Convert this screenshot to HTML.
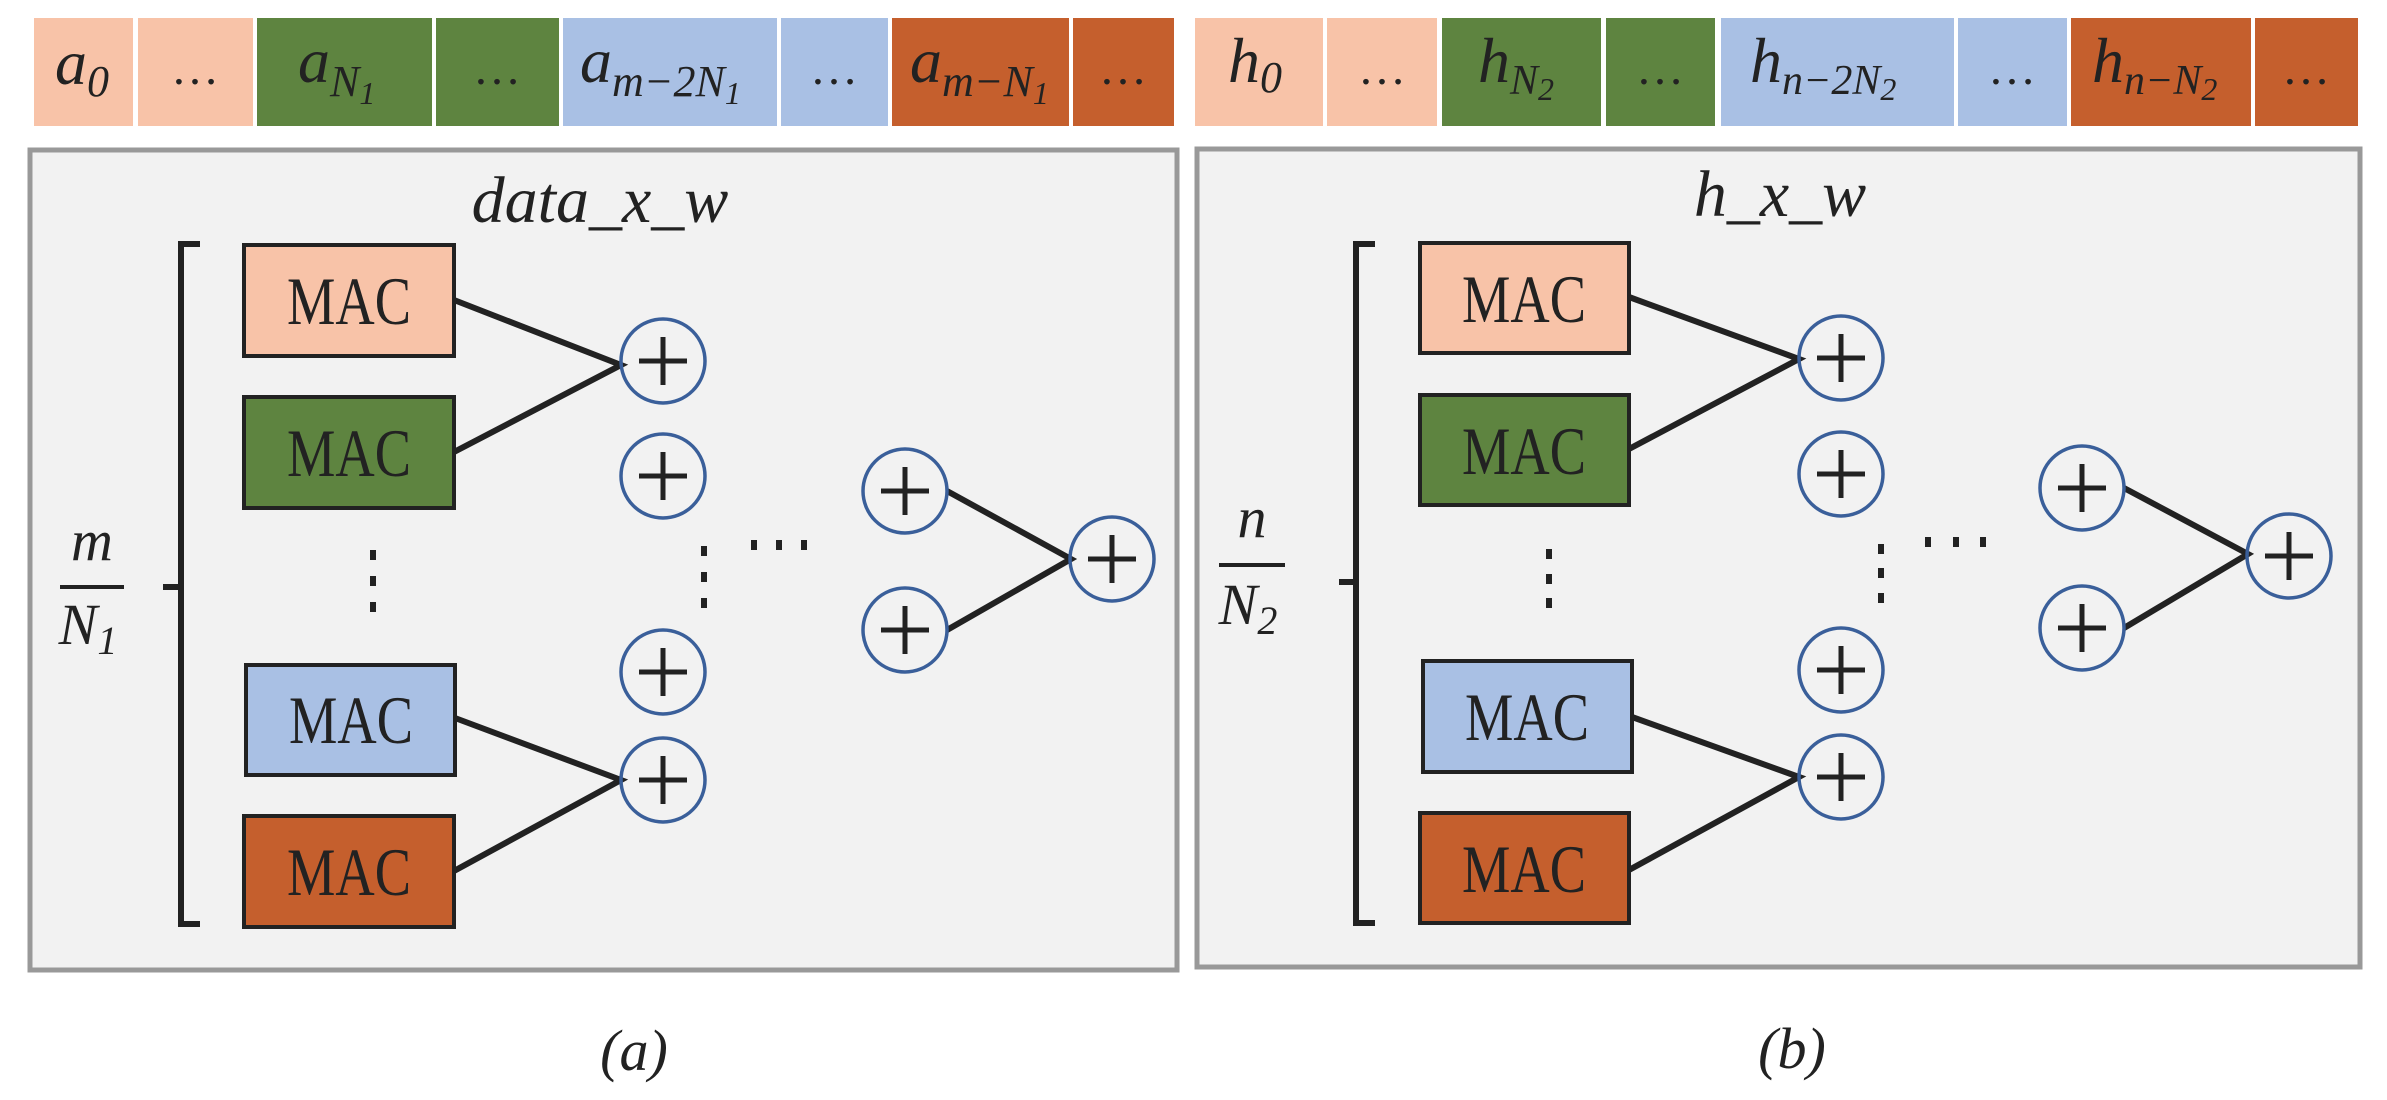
<!DOCTYPE html>
<html><head><style>
html,body{margin:0;padding:0;background:#fff;}
svg{display:block;}
.m{font-family:"Liberation Serif",serif;font-style:italic;}
.t{font-family:"Liberation Serif",serif;}
</style></head><body>
<svg width="2387" height="1100" viewBox="0 0 2387 1100" xmlns="http://www.w3.org/2000/svg">
<g>
<rect x="34" y="18" width="99" height="108" fill="#F8C3A8"/>
<rect x="138" y="18" width="115" height="108" fill="#F8C3A8"/>
<rect x="257" y="18" width="175" height="108" fill="#5E8440"/>
<rect x="436" y="18" width="123" height="108" fill="#5E8440"/>
<rect x="563" y="18" width="214" height="108" fill="#A9C0E4"/>
<rect x="781" y="18" width="107" height="108" fill="#A9C0E4"/>
<rect x="892" y="18" width="177" height="108" fill="#C55F2D"/>
<rect x="1073" y="18" width="101" height="108" fill="#C55F2D"/>
</g>
<g fill="#222" font-size="64">
<text class="m" x="55" y="84">a<tspan font-size="44" dy="12">0</tspan></text>
<text class="t" x="195" y="84" text-anchor="middle" font-size="48">…</text>
<text class="m" x="298" y="82">a<tspan font-size="44" dy="14">N</tspan><tspan font-size="32" dy="8">1</tspan></text>
<text class="t" x="497" y="84" text-anchor="middle" font-size="48">…</text>
<text class="m" x="580" y="82">a<tspan font-size="44" dy="14">m−2N</tspan><tspan font-size="32" dy="8">1</tspan></text>
<text class="t" x="834" y="84" text-anchor="middle" font-size="48">…</text>
<text class="m" x="910" y="82">a<tspan font-size="44" dy="14">m−N</tspan><tspan font-size="32" dy="8">1</tspan></text>
<text class="t" x="1123" y="84" text-anchor="middle" font-size="48">…</text>
</g>
<g>
<rect x="1195" y="18" width="128" height="108" fill="#F8C3A8"/>
<rect x="1327" y="18" width="110" height="108" fill="#F8C3A8"/>
<rect x="1442" y="18" width="159" height="108" fill="#5E8440"/>
<rect x="1606" y="18" width="109" height="108" fill="#5E8440"/>
<rect x="1721" y="18" width="233" height="108" fill="#A9C0E4"/>
<rect x="1958" y="18" width="109" height="108" fill="#A9C0E4"/>
<rect x="2071" y="18" width="180" height="108" fill="#C55F2D"/>
<rect x="2255" y="18" width="103" height="108" fill="#C55F2D"/>
</g>
<g fill="#222" font-size="64">
<text class="m" x="1228" y="82">h<tspan font-size="44" dy="10">0</tspan></text>
<text class="t" x="1382" y="84" text-anchor="middle" font-size="48">…</text>
<text class="m" x="1478" y="82">h<tspan font-size="42" dy="12">N</tspan><tspan font-size="32" dy="6">2</tspan></text>
<text class="t" x="1660" y="84" text-anchor="middle" font-size="48">…</text>
<text class="m" x="1750" y="82">h<tspan font-size="42" dy="12">n−2N</tspan><tspan font-size="32" dy="6">2</tspan></text>
<text class="t" x="2012" y="84" text-anchor="middle" font-size="48">…</text>
<text class="m" x="2092" y="82">h<tspan font-size="42" dy="12">n−N</tspan><tspan font-size="32" dy="6">2</tspan></text>
<text class="t" x="2306" y="84" text-anchor="middle" font-size="48">…</text>
</g>

<rect x="30" y="150" width="1147" height="820" fill="#F2F2F2" stroke="#999" stroke-width="5"/>
<text class="m" x="600" y="222" text-anchor="middle" font-size="66" fill="#222">data_x_w</text>
<path d="M200 244 H181 V924 H200 M181 587 H163" fill="none" stroke="#222" stroke-width="6"/>
<text class="m" x="92" y="560" text-anchor="middle" font-size="58" fill="#222">m</text>
<line x1="60" y1="587" x2="124" y2="587" stroke="#222" stroke-width="4"/>
<text class="m" x="88" y="644" text-anchor="middle" font-size="58" fill="#222">N<tspan font-size="40" dy="10">1</tspan></text>
<g stroke="#222" stroke-width="4">
<rect x="244" y="245" width="210" height="111" fill="#F8C3A8"/>
<rect x="244" y="397" width="210" height="111" fill="#5E8440"/>
<rect x="246" y="665" width="209" height="110" fill="#A9C0E4"/>
<rect x="244" y="816" width="210" height="111" fill="#C55F2D"/>
</g>
<g class="t" font-size="68" fill="#222" text-anchor="middle">
<text x="349" y="324" textLength="124" lengthAdjust="spacingAndGlyphs">MAC</text>
<text x="349" y="476" textLength="124" lengthAdjust="spacingAndGlyphs">MAC</text>
<text x="351" y="743" textLength="124" lengthAdjust="spacingAndGlyphs">MAC</text>
<text x="349" y="895" textLength="124" lengthAdjust="spacingAndGlyphs">MAC</text>
</g>
<g stroke="#222" stroke-width="6" fill="none">
<path d="M454 300 L621 365 L454 452"/>
<path d="M455 718 L621 780 L454 871"/>
<path d="M947 491 L1071 559 L947 630"/>
</g>
<g fill="#222">
<rect x="370" y="550" width="6" height="10"/><rect x="370" y="576" width="6" height="10"/><rect x="370" y="602" width="6" height="10"/>
<rect x="701" y="546" width="6" height="10"/><rect x="701" y="572" width="6" height="10"/><rect x="701" y="598" width="6" height="10"/>
<rect x="751" y="540" width="6" height="10"/><rect x="776" y="540" width="6" height="10"/><rect x="801" y="540" width="6" height="10"/>
</g>
<g fill="none" stroke="#3A5F9A" stroke-width="3.5">
<circle cx="663" cy="361" r="42"/><circle cx="663" cy="476" r="42"/><circle cx="663" cy="672" r="42"/><circle cx="663" cy="780" r="42"/>
<circle cx="905" cy="491" r="42"/><circle cx="905" cy="630" r="42"/><circle cx="1112" cy="559" r="42"/>
</g>
<g stroke="#222" stroke-width="5">
<path d="M639 361 H687 M663 337 V385"/><path d="M639 476 H687 M663 452 V500"/>
<path d="M639 672 H687 M663 648 V696"/><path d="M639 780 H687 M663 756 V804"/>
<path d="M881 491 H929 M905 467 V515"/><path d="M881 630 H929 M905 606 V654"/>
<path d="M1088 559 H1136 M1112 535 V583"/>
</g>
<text class="m" x="634" y="1070" text-anchor="middle" font-size="58" fill="#222">(a)</text>

<rect x="1197" y="149" width="1163" height="818" fill="#F2F2F2" stroke="#999" stroke-width="5"/>
<text class="m" x="1780" y="216" text-anchor="middle" font-size="66" fill="#222">h_x_w</text>
<path d="M1375 244 H1356 V923 H1375 M1356 582 H1339" fill="none" stroke="#222" stroke-width="6"/>
<text class="m" x="1252" y="537" text-anchor="middle" font-size="58" fill="#222">n</text>
<line x1="1219" y1="565" x2="1285" y2="565" stroke="#222" stroke-width="4"/>
<text class="m" x="1248" y="624" text-anchor="middle" font-size="58" fill="#222">N<tspan font-size="40" dy="10">2</tspan></text>
<g stroke="#222" stroke-width="4">
<rect x="1420" y="243" width="209" height="110" fill="#F8C3A8"/>
<rect x="1420" y="395" width="209" height="110" fill="#5E8440"/>
<rect x="1423" y="661" width="209" height="111" fill="#A9C0E4"/>
<rect x="1420" y="813" width="209" height="110" fill="#C55F2D"/>
</g>
<g class="t" font-size="68" fill="#222" text-anchor="middle">
<text x="1524" y="322" textLength="124" lengthAdjust="spacingAndGlyphs">MAC</text>
<text x="1524" y="474" textLength="124" lengthAdjust="spacingAndGlyphs">MAC</text>
<text x="1527" y="740" textLength="124" lengthAdjust="spacingAndGlyphs">MAC</text>
<text x="1524" y="892" textLength="124" lengthAdjust="spacingAndGlyphs">MAC</text>
</g>
<g stroke="#222" stroke-width="6" fill="none">
<path d="M1629 297 L1799 359 L1629 449"/>
<path d="M1632 717 L1799 777 L1629 870"/>
<path d="M2124 488 L2248 554 L2124 628"/>
</g>
<g fill="#222">
<rect x="1546" y="549" width="6" height="10"/><rect x="1546" y="574" width="6" height="10"/><rect x="1546" y="598" width="6" height="10"/>
<rect x="1878" y="544" width="6" height="10"/><rect x="1878" y="568" width="6" height="10"/><rect x="1878" y="593" width="6" height="10"/>
<rect x="1925" y="537" width="6" height="10"/><rect x="1953" y="537" width="6" height="10"/><rect x="1980" y="537" width="6" height="10"/>
</g>
<g fill="none" stroke="#3A5F9A" stroke-width="3.5">
<circle cx="1841" cy="358" r="42"/><circle cx="1841" cy="474" r="42"/><circle cx="1841" cy="670" r="42"/><circle cx="1841" cy="777" r="42"/>
<circle cx="2082" cy="488" r="42"/><circle cx="2082" cy="628" r="42"/><circle cx="2289" cy="556" r="42"/>
</g>
<g stroke="#222" stroke-width="5">
<path d="M1817 358 H1865 M1841 334 V382"/><path d="M1817 474 H1865 M1841 450 V498"/>
<path d="M1817 670 H1865 M1841 646 V694"/><path d="M1817 777 H1865 M1841 753 V801"/>
<path d="M2058 488 H2106 M2082 464 V512"/><path d="M2058 628 H2106 M2082 604 V652"/>
<path d="M2265 556 H2313 M2289 532 V580"/>
</g>
<text class="m" x="1792" y="1068" text-anchor="middle" font-size="58" fill="#222">(b)</text>
</svg>
</body></html>
